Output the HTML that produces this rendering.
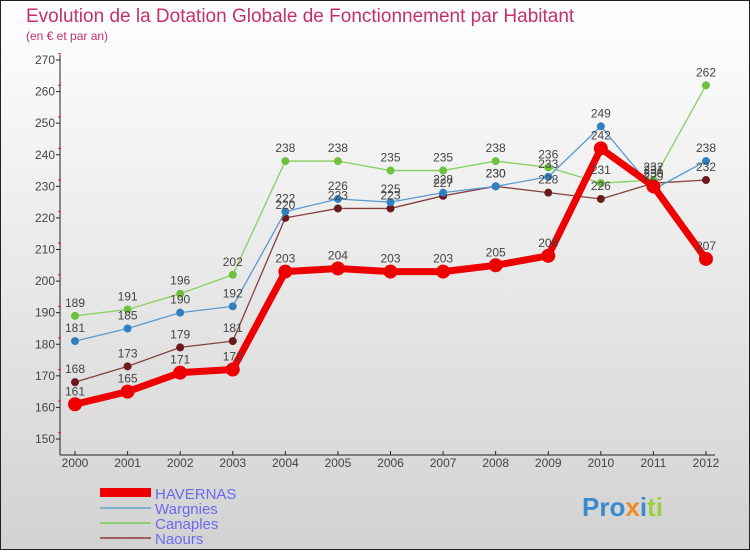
<!DOCTYPE html>
<html><head><meta charset="utf-8"><style>
html,body{margin:0;padding:0}
body{width:750px;height:550px;overflow:hidden;font-family:"Liberation Sans",sans-serif}
</style></head><body>
<svg id="chart" width="750" height="550" xmlns="http://www.w3.org/2000/svg">
<defs><linearGradient id="bg" x1="0" y1="0" x2="0" y2="1"><stop offset="0" stop-color="#ffffff"/><stop offset="1" stop-color="#d2d2d2"/></linearGradient></defs>
<rect x="0.5" y="0.5" width="749" height="549" fill="url(#bg)" stroke="#222"/>
<text x="26" y="22" font-size="19" fill="#c4306a">Evolution de la Dotation Globale de Fonctionnement par Habitant</text>
<text x="26" y="40" font-size="12" fill="#c4306a">(en € et par an)</text>
<g id="axes"></g><g id="series"></g><g id="labels"></g>
<g>
<rect x="100" y="488" width="51" height="9" fill="#ee0000"/>
<line x1="100" y1="508" x2="151" y2="508" stroke="#7fb0d0" stroke-width="2"/>
<line x1="100" y1="523" x2="151" y2="523" stroke="#90d070" stroke-width="2"/>
<line x1="100" y1="538" x2="151" y2="538" stroke="#a06060" stroke-width="2"/>
<text x="155" y="499" font-size="15" fill="#6a6af0">HAVERNAS</text>
<text x="155" y="514" font-size="15" fill="#6a6af0">Wargnies</text>
<text x="155" y="529" font-size="15" fill="#6a6af0">Canaples</text>
<text x="155" y="544" font-size="15" fill="#6a6af0">Naours</text>
</g>
<text x="582" y="516" font-size="26" font-weight="bold" fill="#3a8ad0">Pro<tspan fill="#f08a20">x</tspan><tspan fill="#3a8ad0">i</tspan><tspan fill="#9ad040">ti</tspan></text>
</svg>
<script>
const years=[2000,2001,2002,2003,2004,2005,2006,2007,2008,2009,2010,2011,2012];
const havernas=[161,165,171,172,203,204,203,203,205,208,242,230,207];
const wargnies=[181,185,190,192,222,226,225,228,230,233,249,229,238];
const canaples=[189,191,196,202,238,238,235,235,238,236,231,232,262];
const naours=[168,173,179,181,220,223,223,227,230,228,226,231,232];
const yTicks=[150,160,170,180,190,200,210,220,230,240,250,260,270];
const NS="http://www.w3.org/2000/svg";
const X=i=>75+i*(706-75)/12;
const Y=v=>439-(v-150)*(439-60)/120;
function mk(t,a,p){const e=document.createElementNS(NS,t);for(const k in a)e.setAttribute(k,a[k]);p.appendChild(e);return e;}
const ax=document.getElementById('axes'),sg=document.getElementById('series'),lg=document.getElementById('labels');
let l=mk('line',{x1:60,y1:55,x2:60,y2:455,stroke:'#222'},ax);


l=mk('line',{x1:60,y1:455,x2:715,y2:455,stroke:'#222'},ax);


yTicks.forEach(v=>{
 mk('line',{x1:56,y1:Y(v),x2:60,y2:Y(v),stroke:'#222'},ax);
 mk('line',{x1:58,y1:Y(v)-6.3,x2:61,y2:Y(v)-6.3,stroke:'#e02020'},ax);
 const t=mk('text',{x:55,y:Y(v)+4,'font-size':12,fill:'#444','text-anchor':'end'},ax);
 t.textContent=v;
 
 
});
years.forEach((yr,i)=>{
 mk('line',{x1:X(i),y1:451,x2:X(i),y2:455,stroke:'#222'},ax);
 const t=mk('text',{x:X(i),y:467,'font-size':12,fill:'#444','text-anchor':'middle'},ax);
 t.textContent=yr;
 
 
});
function series(vals,name,color,dot,w,r){
 const p=mk('polyline',{points:vals.map((v,i)=>X(i)+','+Y(v)).join(' '),fill:'none',stroke:color,'stroke-width':w,'stroke-linejoin':'round'},sg);
 
 
 vals.forEach((v,i)=>{
  const c=mk('circle',{cx:X(i),cy:Y(v),r:r,fill:dot},sg);
  
  
  const t=mk('text',{x:X(i),y:Y(v)-9,'font-size':12,fill:'#444','text-anchor':'middle'},lg);
  t.textContent=v;
  
  
 });
}
series(naours,'naours','#8a4040','#6a1a1a',1.3,4);
series(canaples,'canaples','#88d060','#70c040',1.3,4);
series(wargnies,'wargnies','#5a9ad0','#3080c0',1.3,4);
series(havernas,'havernas','#ee0000','#ee0000',7,7);
</script>
</body></html>
